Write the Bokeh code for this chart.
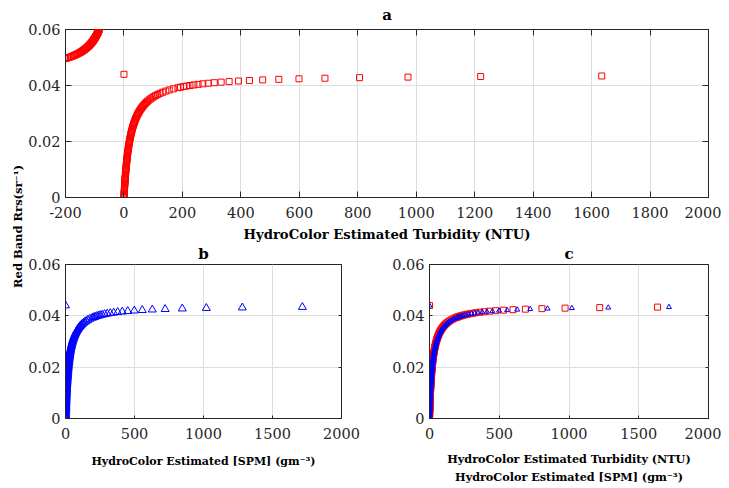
import math
from bokeh.plotting import figure
from bokeh.models import FixedTicker, LinearAxis, Range1d, GridBox, Label
from bokeh.embed import file_html
from bokeh.resources import INLINE

# ---------------- data ----------------
# Red band Rrs (sr^-1), positive-turbidity branch + the point at 0.044
rrs = [
    0.0000, 0.0004, 0.0008, 0.0012, 0.0016, 0.0020, 0.0024, 0.0028, 0.0032, 0.0036,
    0.0040, 0.0044, 0.0048, 0.0052, 0.0056, 0.0060, 0.0064, 0.0068, 0.0072, 0.0076,
    0.0080, 0.0084, 0.0088, 0.0092, 0.0096, 0.0100, 0.0104, 0.0108, 0.0112, 0.0116,
    0.0120, 0.0124, 0.0128, 0.0132, 0.0136, 0.0140, 0.0144, 0.0148, 0.0152, 0.0156,
    0.0160, 0.0164, 0.0168, 0.0172, 0.0176, 0.0180, 0.0184, 0.0188, 0.0192, 0.0196,
    0.0200, 0.0204, 0.0208, 0.0212, 0.0216, 0.0220, 0.0224, 0.0228, 0.0232, 0.0236,
    0.0240, 0.0244, 0.0248, 0.0252, 0.0256, 0.0260, 0.0264, 0.0268, 0.0272, 0.0276,
    0.0280, 0.0284, 0.0288, 0.0292, 0.0296, 0.0300, 0.0304, 0.0308, 0.0312, 0.0316,
    0.0320, 0.0324, 0.0328, 0.0332, 0.0336, 0.0340, 0.0344, 0.0348, 0.0352, 0.0356,
    0.0360, 0.0364, 0.0368, 0.0372, 0.0376, 0.0380, 0.0384, 0.0388, 0.0392,
    0.0394, 0.0396, 0.0398, 0.0400, 0.0402, 0.0404, 0.0406, 0.0408, 0.0410, 0.0412, 0.0414,
    0.0416, 0.0418, 0.0420, 0.0422, 0.0424, 0.0426, 0.0428, 0.0430, 0.0432, 0.0434,
    0.0440,
]
# HydroColor estimated turbidity (NTU) for those Rrs values
ntu = [
    0.00, 0.21, 0.42, 0.63, 0.85, 1.08, 1.30, 1.54, 1.77, 2.01,
    2.26, 2.51, 2.77, 3.03, 3.30, 3.57, 3.85, 4.13, 4.42, 4.72,
    5.02, 5.33, 5.65, 5.97, 6.31, 6.65, 7.00, 7.35, 7.72, 8.09,
    8.48, 8.87, 9.27, 9.69, 10.11, 10.55, 10.99, 11.45, 11.93, 12.41,
    12.91, 13.43, 13.96, 14.50, 15.07, 15.65, 16.24, 16.86, 17.50, 18.15,
    18.83, 19.54, 20.26, 21.01, 21.79, 22.60, 23.44, 24.31, 25.21, 26.15,
    27.12, 28.13, 29.19, 30.29, 31.44, 32.64, 33.90, 35.21, 36.59, 38.03,
    39.55, 41.14, 42.82, 44.59, 46.46, 48.43, 50.52, 52.73, 55.09, 57.59,
    60.27, 63.12, 66.19, 69.47, 73.02, 76.84, 80.98, 85.49, 90.40, 95.78,
    101.70, 108.24, 115.51, 123.64, 132.78, 143.13, 154.97, 168.63, 184.57,
    193.57, 203.40, 214.16, 226.00, 239.08, 253.62, 269.87, 288.15, 308.87, 332.54, 359.86,
    391.73, 429.40, 474.60, 529.84, 598.90, 687.69, 806.07, 971.80, 1220.40, 1634.73,
    0.00,
]
# HydroColor estimated SPM (g m^-3) for the same Rrs values
spm = [
    0.00, 0.22, 0.44, 0.67, 0.90, 1.13, 1.37, 1.61, 1.86, 2.11,
    2.37, 2.64, 2.91, 3.18, 3.46, 3.75, 4.04, 4.34, 4.64, 4.95,
    5.27, 5.60, 5.93, 6.27, 6.62, 6.98, 7.35, 7.72, 8.10, 8.50,
    8.90, 9.31, 9.74, 10.17, 10.62, 11.07, 11.54, 12.03, 12.52, 13.04,
    13.56, 14.10, 14.66, 15.23, 15.82, 16.43, 17.06, 17.70, 18.37, 19.06,
    19.78, 20.51, 21.28, 22.07, 22.88, 23.73, 24.61, 25.52, 26.47, 27.45,
    28.48, 29.54, 30.65, 31.81, 33.02, 34.28, 35.60, 36.98, 38.42, 39.94,
    41.53, 43.20, 44.96, 46.82, 48.78, 50.85, 53.04, 55.37, 57.84, 60.47,
    63.28, 66.28, 69.50, 72.95, 76.67, 80.68, 85.03, 89.76, 94.92, 100.57,
    106.79, 113.65, 121.29, 129.82, 139.41, 150.29, 162.72, 177.06, 193.80,
    203.25, 213.57, 224.87, 237.30, 251.04, 266.30, 283.37, 302.56, 324.31, 349.17, 377.86,
    411.32, 450.87, 498.33, 556.34, 628.85, 722.07, 846.37, 1020.39, 1281.42, 1716.47,
    0.00,
]
# negative-turbidity branch (Rrs above 0.044), visible in panel a
rrs_neg = [
    0.0496, 0.0498, 0.0500, 0.0502, 0.0504, 0.0506, 0.0508, 0.0510, 0.0512, 0.0514,
    0.0516, 0.0518, 0.0520, 0.0522, 0.0524, 0.0526, 0.0528, 0.0530, 0.0532, 0.0534,
    0.0536, 0.0538, 0.0540, 0.0542, 0.0544, 0.0546, 0.0548, 0.0550, 0.0552, 0.0554,
    0.0556, 0.0558, 0.0560, 0.0562, 0.0564, 0.0566, 0.0568, 0.0570, 0.0572, 0.0574,
    0.0576, 0.0578, 0.0580, 0.0582, 0.0584, 0.0586, 0.0588, 0.0590, 0.0592, 0.0594,
    0.0596, 0.0598, 0.0600,
]
ntu_neg = [
    -200.17, -194.05, -188.33, -182.99, -177.98, -173.27, -168.84, -164.66, -160.71, -156.98,
    -153.44, -150.09, -146.90, -143.87, -140.98, -138.23, -135.60, -133.09, -130.69, -128.39,
    -126.18, -124.07, -122.04, -120.09, -118.22, -116.41, -114.67, -113.00, -111.39, -109.83,
    -108.32, -106.87, -105.47, -104.11, -102.79, -101.52, -100.29, -99.09, -97.93, -96.81,
    -95.72, -94.66, -93.63, -92.63, -91.66, -90.71, -89.79, -88.89, -88.02, -87.17,
    -86.34, -85.54, -84.75,
]

# ticks / labels
a_xticks = [-200, 0, 200, 400, 600, 800, 1000, 1200, 1400, 1600, 1800, 2000]
a_xlabels = ["-200", "0", "200", "400", "600", "800", "1000", "1200", "1400", "1600", "1800", "2000"]
bc_xticks = [0, 500, 1000, 1500, 2000]
bc_xlabels = ["0", "500", "1000", "1500", "2000"]
yticks = [0, 0.02, 0.04, 0.06]
ylabels = ["0", "0.02", "0.04", "0.06"]

titles = ["a", "b", "c"]
xlabel_ntu = "HydroColor Estimated Turbidity (NTU)"
xlabel_spm = "HydroColor Estimated [SPM] (gm\u207b\u00b3)"
ylabel = "Red Band Rrs(sr\u207b\u00b9)"

# ---------------- styling ----------------
FONT = "DejaVu Serif"
AX = "#262626"
GRID = "#dedede"
RED = "#ff0000"
BLUE = "#0000ff"
TICKFS = "14.5px"


def make_fig(w, h, xr, yr, lb, rb, tb, bb, xt, xl, title, title_standoff, xlab,
             tick_len, lab_fs, lab_standoff, lab_lh, top_ticks):
    p = figure(width=w, height=h, x_range=Range1d(*xr), y_range=Range1d(*yr),
               output_backend="svg", toolbar_location=None,
               min_border_left=lb, min_border_right=rb,
               min_border_top=tb, min_border_bottom=bb)
    p.background_fill_color = "white"
    p.border_fill_color = "white"
    p.outline_line_color = AX
    p.outline_line_width = 1
    p.outline_line_alpha = 1

    xa = p.xaxis[0]
    ya = p.yaxis[0]
    xa.ticker = FixedTicker(ticks=xt)
    xa.major_label_overrides = dict(zip(xt, xl))
    ya.ticker = FixedTicker(ticks=yticks)
    ya.major_label_overrides = dict(zip(yticks, ylabels))
    for ax in (xa, ya):
        ax.major_tick_in = tick_len
        ax.major_tick_out = 0
        ax.minor_tick_line_color = None
        ax.major_tick_line_color = AX
        ax.axis_line_color = AX
        ax.major_label_text_font = FONT
        ax.major_label_text_font_size = TICKFS
        ax.major_label_text_color = AX
    xa.major_label_standoff = 9
    ya.major_label_standoff = 5
    xa.axis_label = xlab
    xa.axis_label_text_font = FONT
    xa.axis_label_text_font_style = "bold"
    xa.axis_label_text_font_size = lab_fs
    xa.axis_label_text_color = "#000000"
    xa.axis_label_text_line_height = lab_lh
    xa.axis_label_standoff = lab_standoff

    # mirrored ticks on top / right (box on), no labels drawn
    if top_ticks:
        top = LinearAxis(ticker=FixedTicker(ticks=xt), major_label_text_font_size="1px",
                         major_label_text_color=None,
                         major_label_standoff=0, major_tick_in=tick_len, major_tick_out=0,
                         minor_tick_line_color=None, axis_line_color=None,
                         major_tick_line_color=AX)
        p.add_layout(top, "above")
    right = LinearAxis(ticker=FixedTicker(ticks=yticks), major_label_text_font_size="1px",
                       major_label_text_color=None,
                       major_label_standoff=0, major_tick_in=tick_len, major_tick_out=0,
                       minor_tick_line_color=None, axis_line_color=None,
                       major_tick_line_color=AX)
    p.add_layout(right, "right")

    for g in (p.xgrid[0], p.ygrid[0]):
        g.grid_line_color = GRID
        g.grid_line_width = 1
    p.xgrid[0].ticker = FixedTicker(ticks=xt)
    p.ygrid[0].ticker = FixedTicker(ticks=yticks)

    p.title.text = title
    p.title.align = "center"
    p.title.vertical_align = "top"
    p.title.text_font = FONT
    p.title.text_font_style = "bold"
    p.title.text_font_size = "15px"
    p.title.text_line_height = 1.0
    p.title.text_color = "#000000"
    p.title.standoff = title_standoff
    return p


# panel a
pa = make_fig(696, 244, (-200, 2000), (0, 0.06), 38, 13, 29, 46,
              a_xticks, a_xlabels, titles[0], 7, xlabel_ntu, 6, "13.2px", 6, 1.2, True)
pa.scatter(ntu_neg, rrs_neg, marker="square", size=6, line_color=RED,
           fill_color=None, line_width=1)
pa.scatter(ntu, rrs, marker="square", size=6, line_color=RED,
           fill_color=None, line_width=1)

# panel b
pb = make_fig(360, 242, (0, 2000), (0, 0.06), 38, 44, 19, 62,
              bc_xticks, bc_xlabels, titles[1], 0, xlabel_spm, 3, "11px", 13, 1.2, False)
pb.scatter(spm, rrs, marker="triangle", size=8, line_color=BLUE,
           fill_color=None, line_width=1)

# panel c
pc = make_fig(336, 242, (0, 2000), (0, 0.06), 44, 12, 19, 62,
              bc_xticks, bc_xlabels, titles[2], 0, xlabel_ntu + "\n" + xlabel_spm,
              3, "11.2px", 10, 1.3, False)
pc.scatter(ntu, rrs, marker="square", size=6, line_color=RED,
           fill_color=None, line_width=1)
pc.scatter(spm, rrs, marker="triangle", size=5, line_color=BLUE,
           fill_color=None, line_width=1)

# shared y label in its own narrow column spanning both rows
lab = figure(width=25, height=486, x_range=Range1d(0, 1), y_range=Range1d(0, 1),
             x_axis_type=None, y_axis_type=None, output_backend="svg",
             toolbar_location=None, min_border=0)
lab.outline_line_color = None
lab.background_fill_color = "white"
lab.border_fill_color = "white"
lab.add_layout(Label(x=0.68, y=0.4938, text=ylabel, angle=math.pi / 2,
                     text_align="center", text_baseline="middle",
                     text_font=FONT, text_font_style="bold",
                     text_font_size="11.5px", text_color="#000000"))

layout = GridBox(children=[(lab, 0, 0, 2, 1), (pa, 0, 1, 1, 2),
                           (pb, 1, 1, 1, 1), (pc, 1, 2, 1, 1)], spacing=0)

open("out.html", "w").write(file_html(layout, INLINE))
